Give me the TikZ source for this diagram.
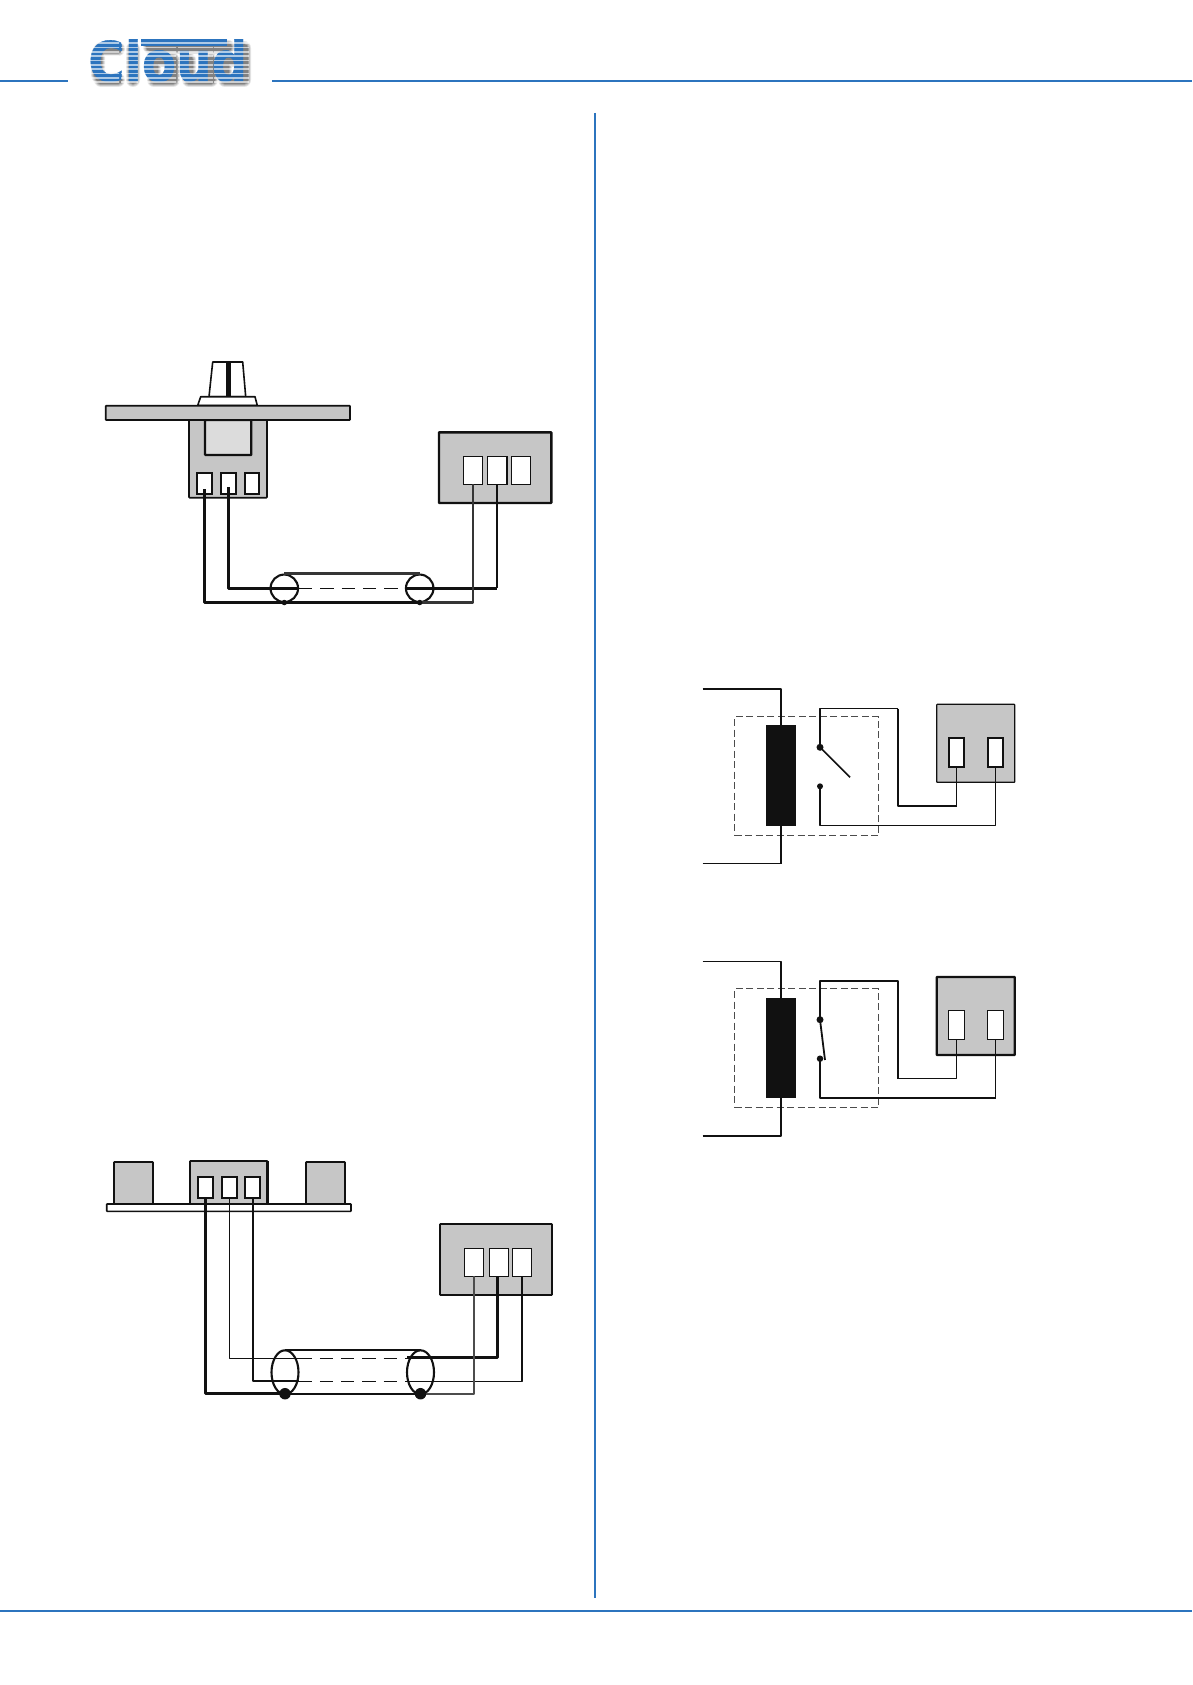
\documentclass[tikz,border=0pt]{standalone}
\usepackage{fontspec}
\usepackage{graphicx}
\usetikzlibrary{calc,shapes.geometric}
\newfontfamily\logofont{DejaVu Sans}[BoldFeatures={FakeBold=0.6}]
\definecolor{rule}{HTML}{2C74BE}
\definecolor{panel}{HTML}{C6C6C6}
\definecolor{light}{HTML}{DCDCDC}
\definecolor{ink}{HTML}{111111}
\newcommand{\bx}[6]{% style, name, x1,y1,x2,y2
  \pgfmathsetmacro{\bw}{#5-#3}\pgfmathsetmacro{\bh}{#6-#4}
  \node[#1,anchor=north west,inner sep=0pt,outer sep=0pt,minimum width=\bw pt,minimum height=\bh pt] (#2) at (#3,#4) {};}
\tikzset{
  x=1pt,y=-1pt,
  rulel/.style={draw=rule,line width=2pt},
  pan/.style={draw=ink,fill=panel,line width=1.6pt,rounded corners=0.6pt},
  panb/.style={draw=ink,fill=panel,line width=2.4pt,rounded corners=0.6pt},
  term/.style={draw=ink,fill=white,line width=2pt},
  termt/.style={draw=ink,fill=white,line width=1.1pt},
  wthin/.style={draw=ink,line width=1.6pt,line join=round},
  wmid/.style={draw=ink,line width=2.1pt,line join=round},
  wthick/.style={draw=ink,line width=2.7pt,line join=round},
  dashw/.style={draw=ink,line width=1.5pt,dash pattern=on 13.3pt off 8pt},
  cage/.style={draw=ink!75,line width=1.1pt,dash pattern=on 7pt off 3.5pt},
  spot/.style={circle,fill=ink,inner sep=0pt,outer sep=0pt},
  ring/.style={draw=ink,line width=2.1pt,inner sep=0pt},
}
\begin{document}
\begin{tikzpicture}
\useasboundingbox (0,0) rectangle (1192,1685);
% rules
\coordinate (rl1) at (0,81); \coordinate (rl2) at (68,81);
\coordinate (rr1) at (272,81); \coordinate (rr2) at (1192,81);
\coordinate (rv1) at (595,113); \coordinate (rv2) at (595,1598);
\coordinate (rb1) at (0,1611); \coordinate (rb2) at (1192,1611);
\draw[rulel] (rl1)--(rl2); \draw[rulel] (rr1)--(rr2);
\draw[rulel] (rv1)--(rv2); \draw[rulel] (rb1)--(rb2);
% logo: soft shadow, then the name, then its stripes
\foreach \w/\o in {14/.10,12/.14,10/.18,8/.2}{
  \draw[black,opacity=\o,line width=\w pt,line join=round,line cap=round,xshift=4pt,yshift=-4pt]
    (114,45)--(97,45)--(94,50)--(94,71)--(97,76)--(114,76)
    (129,45)--(129,76)
    (150,56)--(169,56)--(169,76)--(150,76)--cycle
    (185,56)--(185,76)--(207,76)--(207,56)
    (240,44)--(240,76)--(221,76)--(221,56)--(240,56)
    (146,43)--(224,43);
}
\node[anchor=north west,inner sep=0pt] (logo) at (88,39)
  {\resizebox{159pt}{42pt}{\logofont\bfseries\color{rule}Cloud}};
\fill[rule] (141,39.5) rectangle (227,46.5);
\begin{scope}
  \clip (86,36) rectangle (119,84) (121,36) rectangle (138,84) (139,36) rectangle (228,47)
        (143,47) rectangle (176,84) (178,47) rectangle (213,84) (214,36) rectangle (249,84);
  \foreach \k in {0,...,9}{
    \draw[white,opacity=.62,line width=1.6pt] (86,{43.2+\k*4.33}) -- (250,{43.2+\k*4.33});
  }
\end{scope}
% === figure 1: knob ===
\bx{pan}{potbody}{189}{420}{267}{497.7}
\bx{draw=ink,fill=light,line width=2.2pt,rounded corners=0.6pt}{potinner}{205}{420}{251.3}{455}
\draw[draw=ink,fill=white,line width=1.6pt,line join=round] (212.7,362)--(242.7,362)--(245.7,396.7)--(209,396.7)--cycle;
\draw[draw=ink,line width=4.5pt] (228.3,362)--(228.3,396.7);
\draw[draw=ink,fill=white,line width=1.6pt,line join=round] (200.7,396.7)--(255,396.7)--(257.3,405.5)--(197.7,405.5)--cycle;
\bx{pan}{panel1}{105.7}{405.7}{350}{420}
\bx{term}{pt1}{196.7}{472.7}{212.3}{494}
\bx{term}{pt2}{220.7}{472.7}{236.3}{494}
\bx{term}{pt3}{244.7}{472.7}{259.3}{494}
\bx{panb}{box1}{439}{432.3}{551.3}{503}
\bx{termt}{bt1}{463.3}{456.7}{482.7}{484.3}
\bx{termt}{bt2}{487.7}{456.7}{507}{484.3}
\bx{termt}{bt3}{511.3}{456.7}{530.7}{484.3}
\coordinate (c1a) at (284.3,588.3); \coordinate (c1b) at (419.7,588.3);
\coordinate (d1a) at (284.3,602.5); \coordinate (d1b) at (419.7,602.5);
\node[circle,ring,minimum size=27.5pt] (r1a) at (c1a) {};
\node[circle,ring,minimum size=27.5pt] (r1b) at (c1b) {};
\draw[wmid,draw=ink!85] (r1a.north)--(r1b.north);
\draw[wmid] (d1a)--(d1b);
\draw[dashw] (r1a.east)--(r1b.west);
\draw[wmid] ($(pt1.center)+(0,6)$) |- (d1a);
\draw[wthick,line width=2.4pt] ($(pt2.center)+(0,4)$) |- (r1a.east);
\draw[wthick,line width=2.4pt] (r1b.west) -- (r1b.west -| bt2.south);
\draw[wmid] (r1b.west -| bt2.south) -- (bt2.south);
\draw[wmid,draw=ink!85] (d1b) -| (bt1.south);
\node[spot,minimum size=5.5pt] (s1a) at (d1a) {};
\node[spot,minimum size=5.5pt] (s1b) at (d1b) {};
% === figure 2: socket ===
\bx{pan}{sl}{114}{1162}{153}{1204}
\bx{pan}{sc}{190}{1161}{267.7}{1204}
\bx{pan}{sr}{306}{1162}{345}{1204}
\draw[wmid,line width=2.6pt] (sl.north west)--(sl.north east);
\draw[wmid,line width=2.6pt] (sr.north west)--(sr.north east);
\draw[wmid,line width=2.6pt] (sc.north east)--(sc.south east);
\bx{draw=ink,fill=white,line width=1.6pt,rounded corners=0.6pt}{board}{106.7}{1204}{351}{1211.3}
\bx{term}{st1}{197.7}{1176.7}{213.3}{1198}
\bx{term,line width=2.3pt}{st2}{221.7}{1176.7}{237.3}{1198}
\bx{term}{st3}{245}{1176.7}{260.3}{1198}
\bx{pan}{box2}{440}{1224}{552}{1295}
\bx{termt}{ct1}{464.3}{1248.7}{483.7}{1276.3}
\bx{termt}{ct2}{489.3}{1248.7}{508.7}{1276.3}
\bx{termt}{ct3}{512.3}{1248.7}{531.7}{1276.3}
\coordinate (c2a) at (285,1372.3); \coordinate (c2b) at (420.5,1372.3);
\coordinate (d2a) at (285,1393.7); \coordinate (d2b) at (420.5,1393.7);
\coordinate (u2a) at (285,1350.3); \coordinate (u2b) at (420.5,1350.3);
\node[ellipse,ring,minimum width=27pt,minimum height=44pt] (e2a) at (c2a) {};
\node[ellipse,ring,minimum width=27pt,minimum height=44pt] (e2b) at (c2b) {};
\draw[wmid] (u2a)--(u2b);
\draw[wmid] (d2a)--(d2b);
\coordinate (m2a) at (298.5,1358.5); \coordinate (m2b) at (407,1358.5);
\coordinate (m2c) at (407,1357); \coordinate (k2c) at (497.7,1357); \coordinate (k2t) at (497.7,1276.3);
\coordinate (n2a) at (298.5,1381.3); \coordinate (n2b) at (407,1381.3);
\draw[dashw] (m2a)--(m2b); \draw[dashw] (n2a)--(n2b);
\draw[wthick,line width=2.5pt] (st1.south) |- (d2a);
\draw[wthin] (st2.south) |- (m2a);
\draw[wthick,line width=2.3pt] (st3.south) |- (n2a);
\draw[wthick,line width=3pt] (m2c) -- (k2c) -- (k2t);
\draw[wthin] (n2b) -| (ct3.south);
\draw[wmid,line width=2.3pt,draw=ink!75] (d2b) -| (ct1.south);
\node[spot,minimum size=11.5pt] (s2a) at (d2a) {};
\node[spot,minimum size=11.5pt] (s2b) at (d2b) {};
% === figure 3: relay open ===
\bx{fill=ink}{coil3}{766}{725}{796}{825.7}
\bx{cage}{dash3}{734.5}{716.5}{878.5}{835.5}
\bx{pan,line width=1.2pt}{box3}{936.7}{704.3}{1014.7}{782.3}
\bx{term}{rt1}{948.7}{737.7}{964.3}{767}
\bx{term}{rt2}{987.7}{737.7}{1003.3}{767}
\coordinate (ia3) at (702.7,689); \coordinate (ib3) at (702.7,863.5);
\coordinate (t3) at (898,708.5); \coordinate (b3) at (898,806);
\coordinate (e3) at (956.5,806); \coordinate (l3) at (995.5,825.5);
\coordinate (bl3) at (850,777.3);
\node[spot,minimum size=7pt] (sa3) at (820,747.3) {};
\node[spot,minimum size=6pt] (sb3) at (820,786.3) {};
\draw[wmid] (ia3) -| (coil3.north);
\draw[wthin] (ib3) -- (ib3 -| coil3.south);
\draw[wmid] (ib3 -| coil3.south) -- (coil3.south);
\draw[wthin] (sa3.center) |- (t3);
\draw[wmid] (sa3.center)--(sa3.center |- dash3.north);
\draw[wmid] (t3)--(b3)--(e3);
\draw[wthin] (e3)--(rt1.south);
\draw[wthin] (sb3.center) |- (l3) -- (rt2.south);
\draw[wthin] (sa3.center)--(bl3);
% === figure 4: relay closed ===
\bx{fill=ink}{coil4}{766}{997.7}{796}{1098.4}
\bx{cage}{dash4}{734.5}{988.5}{878.5}{1107.5}
\bx{panb}{box4}{936.7}{977}{1014.7}{1055}
\bx{term,line width=1.5pt}{qt1}{948.7}{1010.4}{964.3}{1039.7}
\bx{term,line width=1.5pt}{qt2}{987.7}{1010.4}{1003.3}{1039.7}
\coordinate (ia4) at (702.7,961.5); \coordinate (ib4) at (702.7,1136);
\coordinate (t4) at (898,981); \coordinate (b4) at (898,1078.5);
\coordinate (l4) at (995.5,1097.7);
\coordinate (bl4) at (825,1060);
\node[spot,minimum size=7pt] (sa4) at (820,1019.7) {};
\node[spot,minimum size=6.5pt] (sb4) at (820,1058.7) {};
\draw[wthin] (ia4) -| (coil4.north);
\draw[wthick,line width=2.3pt] (ib4) -| (coil4.south);
\draw[wthick,line width=2.3pt] (sa4.center) |- (t4) -- (b4);
\draw[wthin] (b4) -| (qt1.south);
\draw[wthick,line width=2.3pt] (sb4.center) |- (l4);
\draw[wthin] (l4) -- (qt2.south);
\draw[wthin,line width=1.8pt] (sa4.center)--(bl4);
\end{tikzpicture}
\end{document}
